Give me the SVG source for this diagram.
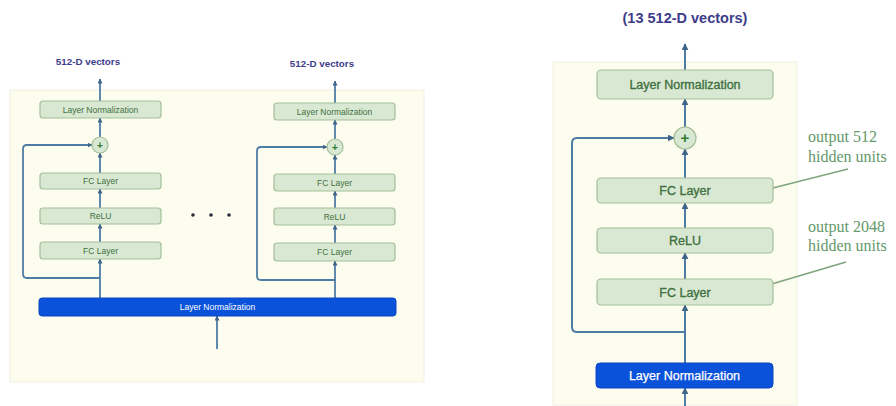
<svg xmlns="http://www.w3.org/2000/svg" width="896" height="406" viewBox="0 0 896 406">
  <defs>
    <marker id="arrS" viewBox="0 0 10 10" refX="9" refY="5" markerUnits="userSpaceOnUse" markerWidth="5" markerHeight="5" orient="auto">
      <path d="M0,0 L10,5 L0,10 z" fill="#3f6588"/>
    </marker>
    <marker id="arrL" viewBox="0 0 10 10" refX="9" refY="5" markerUnits="userSpaceOnUse" markerWidth="7" markerHeight="7" orient="auto">
      <path d="M0,0 L10,5 L0,10 z" fill="#3f6588"/>
    </marker>
    <style>
      .panel { fill: #fdfdef; stroke: #f0f0e2; stroke-width: 1; }
      .box { fill: #d9e8d3; stroke: #a3bf98; stroke-width: 1.2; }
      .norm { fill: #0b52db; stroke: #0a47c0; stroke-width: 1; }
      .sum { fill: #d9e8d3; stroke: #a3bf98; stroke-width: 1.2; }
      .wire { fill: none; stroke: #4f7ca5; stroke-width: 2; }
      .wireS { fill: none; stroke: #4f7ca5; stroke-width: 1.8; }
      .lbl { font-family: "Liberation Sans", Arial, sans-serif; fill: #3f7040; text-anchor: middle; }
      .lblS { font-size: 8.5px; }
      .lblL { font-size: 12.5px; stroke: #3f7040; stroke-width: 0.35; }
      .plus { font-family: "Liberation Sans", Arial, sans-serif; fill: #2f7a30; font-weight: bold; text-anchor: middle; }
      .white { fill: #ffffff; }
      .lblL.white { stroke: #ffffff; stroke-width: 0.25; }
      .out { font-family: "Liberation Sans", Arial, sans-serif; fill: #3d3d8c; font-weight: bold; text-anchor: middle; }
      .note { font-family: "Liberation Serif", "Times New Roman", serif; fill: #64986a; font-size: 16px; }
      .lead { stroke: #7fa47e; stroke-width: 1.4; fill: none; }
    </style>
  </defs>

  <rect width="896" height="406" fill="#ffffff"/>

  <!-- panels -->
  <rect class="panel" x="10" y="90" width="414" height="292"/>
  <rect class="panel" x="553" y="62" width="244" height="343"/>

  <!-- connectors -->
  <g id="connectors">
    <!-- left encoder block -->
    <line class="wireS" x1="100" y1="298" x2="100" y2="259" marker-end="url(#arrS)"/>
    <line class="wireS" x1="100" y1="242" x2="100" y2="224" marker-end="url(#arrS)"/>
    <line class="wireS" x1="100" y1="208" x2="100" y2="189" marker-end="url(#arrS)"/>
    <line class="wireS" x1="100" y1="173" x2="100" y2="153" marker-end="url(#arrS)"/>
    <line class="wireS" x1="100" y1="137" x2="100" y2="118" marker-end="url(#arrS)"/>
    <line class="wireS" x1="100" y1="101" x2="100" y2="79" marker-end="url(#arrS)"/>
    <path class="wireS" d="M100 278 H27 Q23 278 23 274 V149 Q23 145 27 145 H92" marker-end="url(#arrS)"/>

    <!-- second encoder block -->
    <line class="wireS" x1="335" y1="298" x2="335" y2="261" marker-end="url(#arrS)"/>
    <line class="wireS" x1="335" y1="243" x2="335" y2="225" marker-end="url(#arrS)"/>
    <line class="wireS" x1="335" y1="208" x2="335" y2="191" marker-end="url(#arrS)"/>
    <line class="wireS" x1="335" y1="174" x2="335" y2="155" marker-end="url(#arrS)"/>
    <line class="wireS" x1="335" y1="139" x2="335" y2="120" marker-end="url(#arrS)"/>
    <line class="wireS" x1="335" y1="103" x2="335" y2="81" marker-end="url(#arrS)"/>
    <path class="wireS" d="M335 280 H261 Q257 280 257 276 V151 Q257 147 261 147 H327" marker-end="url(#arrS)"/>

    <!-- shared input -->
    <line class="wireS" x1="217" y1="349" x2="217" y2="316" marker-end="url(#arrS)"/>

    <!-- detailed block -->
    <line class="wire" x1="685" y1="363" x2="685" y2="305" marker-end="url(#arrL)"/>
    <line class="wire" x1="685" y1="279" x2="685" y2="253" marker-end="url(#arrL)"/>
    <line class="wire" x1="685" y1="228" x2="685" y2="203" marker-end="url(#arrL)"/>
    <line class="wire" x1="685" y1="178" x2="685" y2="149" marker-end="url(#arrL)"/>
    <line class="wire" x1="685" y1="127" x2="685" y2="99" marker-end="url(#arrL)"/>
    <line class="wire" x1="685" y1="70" x2="685" y2="44" marker-end="url(#arrL)"/>
    <path class="wire" d="M685 332 H577 Q572 332 572 327 V143 Q572 138 577 138 H674" marker-end="url(#arrL)"/>
    <line class="wire" x1="685" y1="406" x2="685" y2="388" marker-end="url(#arrL)"/>

    <!-- annotation leaders -->
    <line class="lead" x1="848" y1="169" x2="765" y2="190"/>
    <line class="lead" x1="846" y1="262" x2="765" y2="286"/>
  </g>

  <!-- left encoder block -->
  <g id="enc1-norm-out">
    <rect class="box" x="40" y="101" width="121" height="17" rx="3"/>
    <text class="lbl lblS" x="100.5" y="112.5">Layer Normalization</text>
  </g>
  <g id="enc1-add">
    <circle class="sum" cx="100" cy="145" r="8"/>
    <text class="plus" x="100" y="148.5" font-size="10">+</text>
  </g>
  <g id="enc1-fc2">
    <rect class="box" x="40" y="173" width="121" height="16" rx="3"/>
    <text class="lbl lblS" x="100.5" y="184">FC Layer</text>
  </g>
  <g id="enc1-relu">
    <rect class="box" x="40" y="208" width="121" height="16" rx="3"/>
    <text class="lbl lblS" x="100.5" y="219">ReLU</text>
  </g>
  <g id="enc1-fc1">
    <rect class="box" x="40" y="242" width="121" height="17" rx="3"/>
    <text class="lbl lblS" x="100.5" y="253.5">FC Layer</text>
  </g>
  <g id="enc1-output">
    <text class="out" x="88" y="65" font-size="9.8">512-D vectors</text>
  </g>

  <!-- second encoder block -->
  <g id="enc2-norm-out">
    <rect class="box" x="274" y="103" width="121" height="17" rx="3"/>
    <text class="lbl lblS" x="334.5" y="114.5">Layer Normalization</text>
  </g>
  <g id="enc2-add">
    <circle class="sum" cx="335" cy="147" r="8"/>
    <text class="plus" x="335" y="150.5" font-size="10">+</text>
  </g>
  <g id="enc2-fc2">
    <rect class="box" x="274" y="174" width="121" height="17" rx="3"/>
    <text class="lbl lblS" x="334.5" y="185.5">FC Layer</text>
  </g>
  <g id="enc2-relu">
    <rect class="box" x="274" y="208" width="121" height="17" rx="3"/>
    <text class="lbl lblS" x="334.5" y="219.5">ReLU</text>
  </g>
  <g id="enc2-fc1">
    <rect class="box" x="274" y="243" width="121" height="18" rx="3"/>
    <text class="lbl lblS" x="334.5" y="255">FC Layer</text>
  </g>
  <g id="enc2-output">
    <text class="out" x="322" y="67" font-size="9.8">512-D vectors</text>
  </g>

  <!-- ellipsis between blocks -->
  <g id="ellipsis" fill="#2b2b3a">
    <circle cx="193" cy="215" r="1.8"/>
    <circle cx="211" cy="215" r="1.8"/>
    <circle cx="229" cy="215" r="1.8"/>
  </g>

  <!-- shared input normalization -->
  <g id="input-norm">
    <rect class="norm" x="39" y="298" width="357" height="18" rx="3"/>
    <text class="lbl lblS white" x="217.5" y="310">Layer Normalization</text>
  </g>

  <!-- detailed block -->
  <g id="block-output">
    <text class="out" x="685" y="23" font-size="14.5">(13 512-D vectors)</text>
  </g>
  <g id="block-norm-out">
    <rect class="box" x="597" y="70" width="176" height="29" rx="4"/>
    <text class="lbl lblL" x="685" y="89">Layer Normalization</text>
  </g>
  <g id="block-add">
    <circle class="sum" cx="685" cy="138" r="11"/>
    <text class="plus" x="685" y="143" font-size="15">+</text>
  </g>
  <g id="block-fc2">
    <rect class="box" x="597" y="178" width="176" height="25" rx="4"/>
    <text class="lbl lblL" x="685" y="195">FC Layer</text>
  </g>
  <g id="block-relu">
    <rect class="box" x="597" y="228" width="176" height="25" rx="4"/>
    <text class="lbl lblL" x="685" y="245">ReLU</text>
  </g>
  <g id="block-fc1">
    <rect class="box" x="597" y="279" width="176" height="26" rx="4"/>
    <text class="lbl lblL" x="685" y="296.5">FC Layer</text>
  </g>
  <g id="block-norm-in">
    <rect class="norm" x="596" y="363" width="177" height="25" rx="4"/>
    <text class="lbl lblL white" x="684.5" y="380">Layer Normalization</text>
  </g>

  <!-- annotations -->
  <g id="note-512">
    <text class="note" x="808" y="142">output 512</text>
    <text class="note" x="808" y="162">hidden units</text>
  </g>
  <g id="note-2048">
    <text class="note" x="808" y="232">output 2048</text>
    <text class="note" x="808" y="251">hidden units</text>
  </g>
</svg>
